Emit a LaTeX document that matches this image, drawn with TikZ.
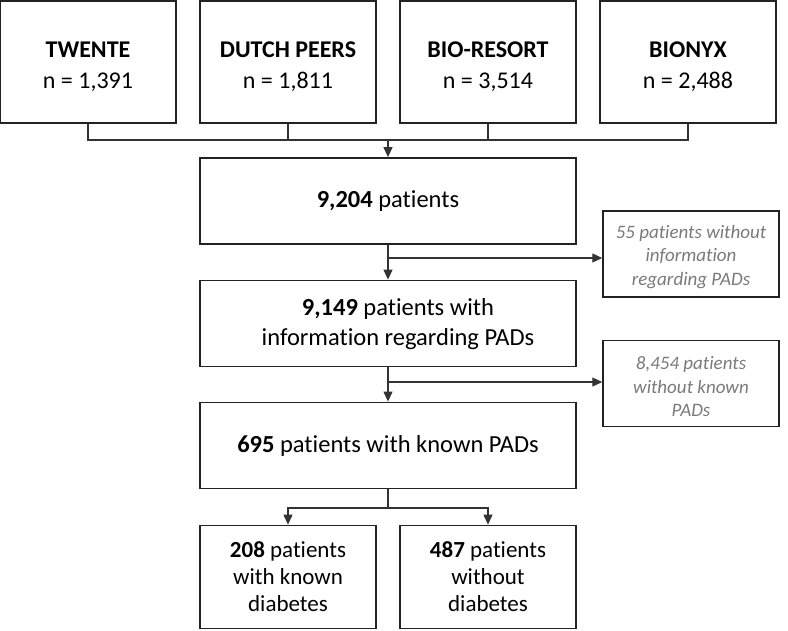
\documentclass[tikz,border=0pt]{standalone}
\usepackage{fontspec}
\setmainfont[Ligatures=NoCommon]{Carlito}
\usetikzlibrary{arrows.meta}
\definecolor{boxline}{HTML}{222222}
\definecolor{connline}{HTML}{333333}
\definecolor{sidetext}{HTML}{7A7A7A}
\tikzset{
  topbox/.style={draw=boxline, line width=1.8pt, rectangle, minimum width=176pt, minimum height=122pt, inner sep=0pt},
  toptext/.style={align=center, inner sep=0pt, font=\fontsize{24}{31}\selectfont},
  mainbox/.style={draw=boxline, line width=1.8pt, rectangle, minimum width=376pt, minimum height=86pt, align=center, inner sep=0pt, font=\fontsize{24.5}{30}\selectfont},
  maintext/.style={align=center, inner sep=0pt, font=\fontsize{24.5}{30}\selectfont},
  sidebox/.style={draw=boxline, line width=1.5pt, rectangle, minimum width=176pt, minimum height=86pt, inner sep=0pt},
  sidetxt/.style={align=center, inner sep=0pt, text=sidetext, font=\fontsize{19}{23.5}\selectfont\itshape},
  botbox/.style={draw=boxline, line width=1.8pt, rectangle, minimum width=176pt, minimum height=103pt, align=center, inner sep=0pt, font=\fontsize{23}{27}\selectfont},
  conn/.style={draw=connline, line width=1.2pt},
  arr/.style={conn, -{Triangle[length=10pt,width=9pt]}}
}
\begin{document}
\begin{tikzpicture}[x=1pt,y=-1pt]
\useasboundingbox (0,0) rectangle (788,630);
\node[topbox] (t1) at (88,62) {};
\node[topbox] (t2) at (288,62) {};
\node[topbox] (t3) at (488,62) {};
\node[topbox] (t4) at (688,62) {};
\node[toptext] (t1x) at (88,67) {\textbf{TWENTE}\\n = 1,391};
\node[toptext] (t2x) at (288,67) {\textbf{DUTCH PEERS}\\n = 1,811};
\node[toptext] (t3x) at (488,67) {\textbf{BIO-RESORT}\\n = 3,514};
\node[toptext] (t4x) at (688,67) {\textbf{BIONYX}\\n = 2,488};
\node[mainbox] (b1) at (388,201) {\textbf{9,204} patients};
\node[mainbox] (b2) at (388,323.5) {};
\node[maintext] (b2x) at (398,324.5) {\textbf{9,149} patients with\\information regarding PADs};
\node[mainbox] (b3) at (388,445.5) {\textbf{695} patients with known PADs};
\node[sidebox] (s1) at (691,254) {};
\node[sidebox] (s2) at (691,383.5) {};
\node[sidetxt] (s1x) at (691,257) {55 patients without\\information\\regarding PADs};
\node[sidetxt] (s2x) at (691,387) {8,454 patients\\without known\\PADs};
\node[botbox] (d1) at (288,577) {\textbf{208} patients\\with known\\diabetes};
\node[botbox] (d2) at (488,577) {\textbf{487} patients\\without\\diabetes};
\coordinate (j) at (388,140);
\coordinate (m1) at (388,258);
\coordinate (m2) at (388,382);
\coordinate (k) at (388,508);
\draw[conn] (t1.south) |- (t4.south |- j) -- (t4.south);
\draw[conn] (t2.south) -- (t2.south |- j);
\draw[conn] (t3.south) -- (t3.south |- j);
\draw[arr] (j) -- (b1.north);
\draw[arr] (b1.south) -- (b2.north);
\draw[arr] (m1) -- (m1 -| s1.west);
\draw[arr] (b2.south) -- (b3.north);
\draw[arr] (m2) -- (m2 -| s2.west);
\draw[conn] (b3.south) -- (k);
\draw[arr] (k) -| (d1.north);
\draw[arr] (k) -| (d2.north);
\end{tikzpicture}
\end{document}
